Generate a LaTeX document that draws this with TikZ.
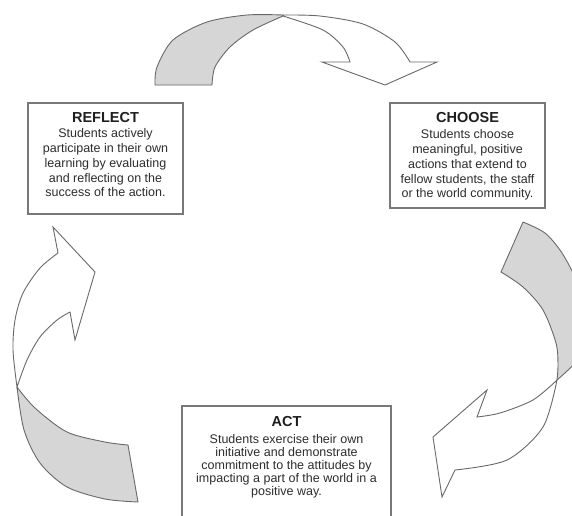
\documentclass[tikz,border=0pt]{standalone}
\usepackage{fontspec}
\setmainfont{Liberation Sans}
\definecolor{ribfill}{RGB}{214,214,214}
\definecolor{ribline}{RGB}{105,105,105}
\definecolor{boxline}{RGB}{120,120,120}
\definecolor{txtcol}{RGB}{45,45,45}
\definecolor{ttlcol}{RGB}{30,30,30}
\begin{document}
\begin{tikzpicture}[x=1pt,y=-1pt,
  ribbon/.style={draw=ribline, line width=0.9pt, line join=round, fill=ribfill},
  ribbonw/.style={draw=ribline, line width=0.9pt, line join=miter, fill=white},
  boxframe/.style={draw=boxline, line width=1.1pt, fill=white, inner sep=0pt, outer sep=0pt},
  ttl/.style={font=\bfseries\fontsize{14.5}{16}\selectfont, text=ttlcol, inner sep=0pt, anchor=base},
  bodytxt/.style={font=\fontsize{12.5}{14.8}\selectfont, text=txtcol, inner sep=0pt, anchor=north, align=center},
  bodytight/.style={bodytxt, font=\fontsize{12.5}{13}\selectfont}
]
\useasboundingbox (0,0) rectangle (572,515);
\clip (0,0) rectangle (572,515);

% top arrow: gray back part
\path[ribbon] plot[smooth] coordinates {(155,85) (157,67) (173,40) (207,22) (247,15) (283,15)}
  -- plot[smooth] coordinates {(283,16) (253,30) (230,47) (215,67) (212,85)} -- cycle;
% top arrow: white front part with head
\path[ribbonw] plot[smooth] coordinates {(283,15) (320,16) (363,24) (395,42) (410,62)}
  -- (437,62) -- (385,85) -- (322,62) -- (350,62)
  -- plot[smooth] coordinates {(350,62) (343,47) (323,30) (283,16)} -- cycle;

% right arrow: gray back part
\path[ribbon] plot[smooth] coordinates {(523,222) (545,233) (562,253) (577,282) (587,318) (583,353) (557,380)}
  -- plot[smooth] coordinates {(557,380) (558,365) (556,343) (543,310) (523,287) (501,272)} -- cycle;
% right arrow: white front part with head
\path[ribbonw] plot[smooth] coordinates {(557,380) (543,427) (507,460) (455,470)}
  -- (442,497) -- (433,437) -- (487,390) -- (477,417)
  -- plot[smooth] coordinates {(477,417) (500,413) (533,400) (557,380)} -- cycle;

% left arrow: gray back part
\path[ribbon] plot[smooth] coordinates {(17,387) (24,430) (40,463) (67,487) (105,499) (138,502)}
  -- plot[smooth] coordinates {(128,445) (105,442) (67,432) (35,408) (17,387)} -- cycle;
% left arrow: white front part with head
\path[ribbonw] plot[smooth] coordinates {(17,387) (13,350) (15,320) (23,293) (40,268) (58,253)}
  -- (53,227) -- (95,272) -- (75,340) -- (70,312)
  -- plot[smooth] coordinates {(70,312) (57,320) (40,337) (27,360) (17,387)} -- cycle;

% boxes
\node[boxframe, minimum width=155pt, minimum height=111pt] (reflectbox) at (105.5,158.5) {};
\node[boxframe, minimum width=155pt, minimum height=105pt] (choosebox) at (467.5,155.5) {};
\node[boxframe, minimum width=209pt, minimum height=130pt] (actbox) at (286.5,471) {};

% texts
\node[ttl] (reflectttl) at (105.5,122.2) {REFLECT};
\node[bodytxt] (reflecttxt) at (105.5,128.5) {Students actively\\participate in their own\\learning by evaluating\\and reflecting on the\\success of the action.};

\node[ttl] (choosettl) at (467.5,122.2) {CHOOSE};
\node[bodytxt] (choosetxt) at (467.5,129.5) {Students choose\\meaningful, positive\\actions that extend to\\fellow students, the staff\\or the world community.};

\node[ttl] (actttl) at (286.5,426.7) {ACT};
\node[bodytight] (acttxt) at (286.5,433.8) {Students exercise their own\\initiative and demonstrate\\commitment to the attitudes by\\impacting a part of the world in a\\positive way.};
\end{tikzpicture}
\end{document}
